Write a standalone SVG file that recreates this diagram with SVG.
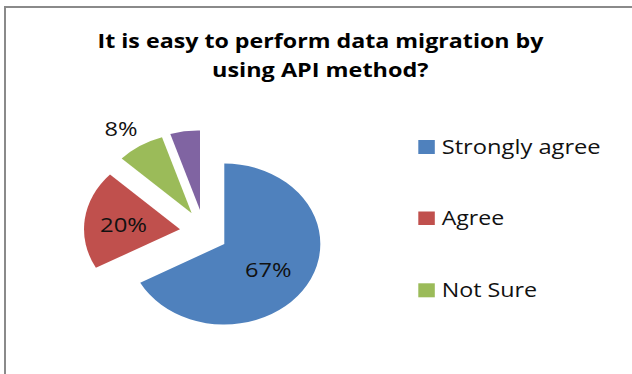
<svg xmlns="http://www.w3.org/2000/svg" width="632" height="374" viewBox="0 0 632 374">
  <style>
    .title { font-family: "Open Sans", "Liberation Sans", sans-serif; font-weight: bold; font-size: 20px; fill: #000; }
    .lbl { font-family: "Open Sans", "Liberation Sans", sans-serif; font-size: 19.5px; fill: #111; }
    .legend { font-family: "Open Sans", "Liberation Sans", sans-serif; font-size: 19.5px; fill: #111; }
    .s-blue { fill: #4F81BD; }
    .s-red { fill: #C0504D; }
    .s-green { fill: #9BBB59; }
    .s-purple { fill: #8064A2; }
  </style>

  <rect x="0" y="0" width="632" height="374" fill="#fff"/>
  <!-- chart frame (continues past the right and bottom edges) -->
  <path d="M5,374 V7 H632" fill="none" stroke="#8a8a8a" stroke-width="2"/>

  <!-- title -->
  <g id="title">
    <text class="title" x="97.5" y="48" textLength="446" lengthAdjust="spacingAndGlyphs">It is easy to perform data migration by</text>
    <text class="title" x="212" y="77" textLength="216.5" lengthAdjust="spacingAndGlyphs">using API method?</text>
  </g>

  <!-- exploded pie slices -->
  <g id="pie">
    <path id="slice-strongly-agree" class="s-blue" d="M224.3,244 V163.5 A96,80.5 0 1 1 140.2,282.8 Z"/>
    <path id="slice-agree" class="s-red" d="M180,229.3 L95.9,267.8 A96,80 0 0 1 110,174.5 Z"/>
    <path id="slice-not-sure" class="s-green" d="M191.7,213.3 L121.7,158.5 A96,80 0 0 1 162,137.2 Z"/>
    <path id="slice-other" class="s-purple" d="M200,210 L170.3,133.9 A96,80 0 0 1 200,130.5 Z"/>
  </g>

  <!-- data labels -->
  <g id="labels">
    <text class="lbl" x="245" y="277" textLength="46.5" lengthAdjust="spacingAndGlyphs">67%</text>
    <text class="lbl" x="100" y="231.5" textLength="47" lengthAdjust="spacingAndGlyphs">20%</text>
    <text class="lbl" x="104.5" y="136" textLength="33" lengthAdjust="spacingAndGlyphs">8%</text>
  </g>

  <!-- legend -->
  <g id="legend">
    <g id="legend-strongly-agree">
      <rect class="s-blue" x="418.3" y="140" width="16.5" height="14"/>
      <text class="legend" x="441.7" y="154" textLength="159" lengthAdjust="spacingAndGlyphs">Strongly agree</text>
    </g>
    <g id="legend-agree">
      <rect class="s-red" x="418.3" y="211.5" width="16.5" height="13.5"/>
      <text class="legend" x="441.7" y="225" textLength="62.5" lengthAdjust="spacingAndGlyphs">Agree</text>
    </g>
    <g id="legend-not-sure">
      <rect class="s-green" x="418.3" y="283.3" width="16.5" height="14"/>
      <text class="legend" x="441.7" y="297.3" textLength="95.5" lengthAdjust="spacingAndGlyphs">Not Sure</text>
    </g>
  </g>
</svg>
